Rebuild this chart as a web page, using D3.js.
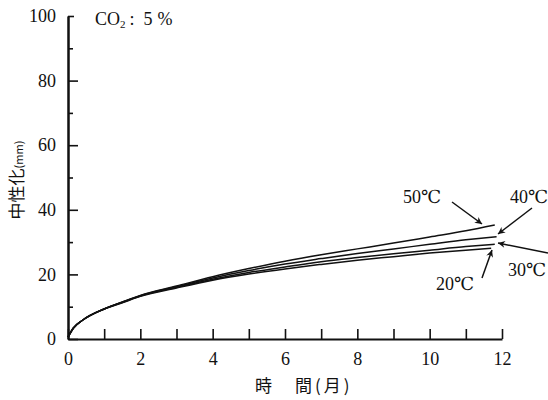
<!DOCTYPE html>
<html>
<head>
<meta charset="utf-8">
<script src="https://cdn.jsdelivr.net/npm/d3@7"></script>
<style>
    body { margin: 0; background: #fff; }
    svg { display: block; }
    .num { font-family: "Liberation Serif", "DejaVu Serif", serif; font-size: 18px; fill: #111; }
    .jp { font-family: "Noto Sans CJK JP", sans-serif; fill: #111; }
</style>
</head>
<body>
<div id="chart"></div>
<script>
const W = 548, H = 400;

// months
const months = [0, 0.15, 0.4, 1, 1.5, 2, 3, 4, 5, 6, 7, 8, 9, 10, 11];
const c50 = [0.6, 3.4, 5.8, 9.3, 11.5, 13.5, 16.4, 19.3, 21.8, 24.1, 26.1, 27.9, 29.7, 31.6, 33.5];
const c40 = [0.6, 3.4, 5.8, 9.3, 11.4, 13.4, 16.2, 18.9, 21.2, 23.2, 24.9, 26.5, 27.9, 29.3, 30.7];
const c30 = [0.6, 3.4, 5.8, 9.3, 11.3, 13.3, 16.0, 18.5, 20.6, 22.3, 23.9, 25.2, 26.4, 27.5, 28.6];
const c20 = [0.6, 3.4, 5.8, 9.3, 11.2, 13.2, 15.8, 18.2, 20.1, 21.7, 23.1, 24.4, 25.5, 26.6, 27.5];
// last point of each curve (month, value)
const ends = [[11.8, 35.3], [11.85, 31.7], [11.8, 29.3], [11.7, 28.1]];
const seriesNames = ["50℃", "40℃", "30℃", "20℃"];

const xTicks = d3.range(0, 13);
const yMajor = [0, 20, 40, 60, 80, 100];
const yMinor = [10, 30, 50, 70, 90];

const x = d3.scaleLinear().domain([0, 12]).range([68, 502]);
const y = d3.scaleLinear().domain([0, 100]).range([339, 16]);

const svg = d3.select("#chart").append("svg").attr("width", W).attr("height", H);

svg.append("defs").append("marker")
    .attr("id", "arr")
    .attr("viewBox", "0 0 10 10")
    .attr("refX", 10).attr("refY", 5)
    .attr("markerWidth", 11).attr("markerHeight", 7)
    .attr("markerUnits", "userSpaceOnUse")
    .attr("orient", "auto")
    .append("path")
    .attr("d", "M0,0 L10,5 L0,10 L3,5 Z")
    .attr("fill", "#111");

// x axis, ticks pointing inside
const xAxis = svg.append("g")
    .attr("transform", `translate(0,${y(0)})`)
    .call(d3.axisBottom(x).tickValues(xTicks).tickSizeInner(-10).tickSizeOuter(0)
        .tickPadding(13).tickFormat(d => d % 2 === 0 ? d : ""));

// y axis
const yAxis = svg.append("g")
    .attr("transform", `translate(${x(0)},0)`)
    .call(d3.axisLeft(y).tickValues(yMajor).tickSizeInner(-10).tickSizeOuter(0)
        .tickPadding(12));
const yMin = svg.append("g")
    .attr("transform", `translate(${x(0)},0)`)
    .call(d3.axisLeft(y).tickValues(yMinor).tickSizeInner(-5).tickSizeOuter(0).tickFormat(""));

[xAxis, yAxis, yMin].forEach(g => {
    g.select(".domain").attr("stroke", "#111").attr("stroke-width", 2);
    g.selectAll(".tick line").attr("stroke", "#111").attr("stroke-width", 1.6);
    g.selectAll(".tick text").attr("class", "num").attr("font-family", null).attr("font-size", null);
});
yAxis.select(".tick:last-of-type line").attr("x2", 6);

// curves
const line = d3.line().x(d => x(d[0])).y(d => y(d[1])).curve(d3.curveMonotoneX);
[c50, c40, c30, c20].forEach((vals, i) => {
    const pts = months.map((m, j) => [m, vals[j]]).concat([ends[i]]);
    svg.append("path")
        .datum(pts)
        .attr("d", line)
        .attr("fill", "none")
        .attr("stroke", "#111")
        .attr("stroke-width", 1.5);
});

// labels with arrows
const notes = [
    { t: seriesNames[0], tx: 403, ty: 203, from: [452, 202], to: [482, 224] },
    { t: seriesNames[1], tx: 510, ty: 203, from: [532, 208], to: [498, 234] },
    { t: seriesNames[2], tx: 508, ty: 276, from: [548, 253], to: [498, 243] },
    { t: seriesNames[3], tx: 436, ty: 290, from: [482, 278], to: [492, 250] },
];
notes.forEach(n => {
    svg.append("text").attr("class", "num").attr("x", n.tx).attr("y", n.ty).text(n.t);
    svg.append("line")
        .attr("x1", n.from[0]).attr("y1", n.from[1])
        .attr("x2", n.to[0]).attr("y2", n.to[1])
        .attr("stroke", "#111").attr("stroke-width", 1.5)
        .attr("marker-end", "url(#arr)");
});

// title
const title = svg.append("text").attr("class", "num").attr("x", 95).attr("y", 25);
title.append("tspan").text("CO");
title.append("tspan").attr("font-size", 11).attr("dy", 3).text("2");
title.append("tspan").attr("dy", -3).attr("dx", 4).text(":");
title.append("tspan").attr("dx", 9).text("5");
title.append("tspan").attr("dx", 5).text("%");

// axis titles
svg.append("text").attr("class", "jp")
    .attr("x", 255).attr("y", 392)
    .attr("font-size", 17)
    .attr("letter-spacing", 3)
    .text("時　間(月)");

const yt = svg.append("text").attr("class", "jp")
    .attr("transform", "translate(23,180) rotate(-90)")
    .attr("text-anchor", "middle")
    .attr("font-size", 17);
yt.append("tspan").text("中性化");
yt.append("tspan").attr("font-size", 11).text("(mm)");
</script>
</body>
</html>
